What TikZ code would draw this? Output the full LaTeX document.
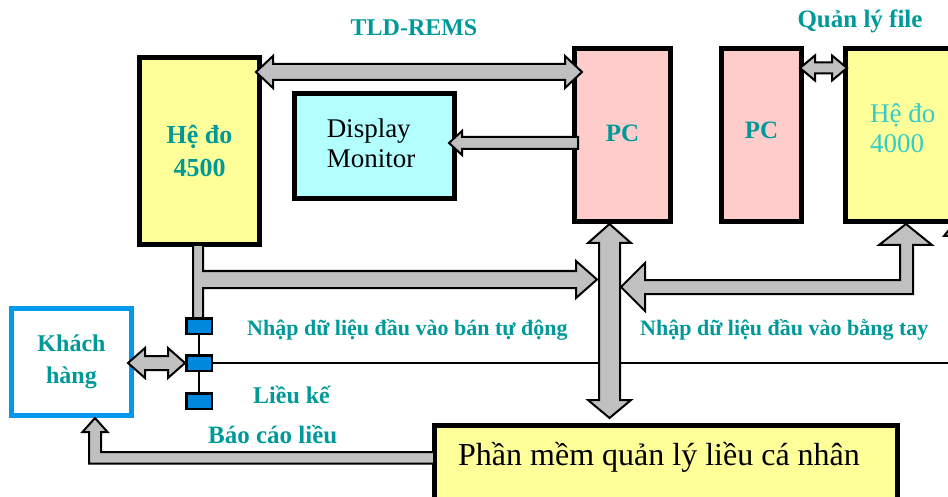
\documentclass[tikz,border=0pt]{standalone}
\usepackage{fontspec}
\setmainfont{Liberation Serif}
\definecolor{tealtxt}{HTML}{009999}
\definecolor{cyantxt}{HTML}{33CCCC}
\definecolor{yel}{HTML}{FFFF99}
\definecolor{pinkbox}{HTML}{FFCCCC}
\definecolor{cyanbox}{HTML}{B3FFFF}
\definecolor{grayarr}{HTML}{C0C0C0}
\definecolor{blueconn}{HTML}{0088DD}
\definecolor{bluebox}{HTML}{0099EE}
\begin{document}
\begin{tikzpicture}[x=1pt,y=-1pt,
  box/.style={draw=black, line width=5pt, inner sep=0pt, align=center},
  blk/.style={draw=black, line width=2pt, fill=grayarr, line join=miter},
  lbl/.style={text=tealtxt, inner sep=0pt, anchor=base west},
  connbox/.style={draw=black, line width=2.5pt, fill=blueconn, minimum width=25.5pt, minimum height=15.5pt, inner sep=0pt}
]
\useasboundingbox (0,0) rectangle (948,497);
\clip (0,0) rectangle (948,497);

% boxes
\node[box, fill=yel, minimum width=120pt, minimum height=187pt, text=tealtxt,
      font=\bfseries\fontsize{26}{33}\selectfont] (h45) at (199.5,151) {Hệ đo\\4500};
\node[box, fill=cyanbox, minimum width=160pt, minimum height=105pt] (mon) at (374.5,146) {};
\node[inner sep=0pt, align=left, font=\fontsize{27}{30}\selectfont] (mont) at (371,143) {Display\\Monitor};
\node[box, fill=pinkbox, minimum width=96pt, minimum height=173pt, text=tealtxt,
      font=\bfseries\fontsize{25}{30}\selectfont] (pc1) at (622.5,135) {\raisebox{3pt}{PC}};
\node[box, fill=pinkbox, minimum width=80pt, minimum height=173pt, text=tealtxt,
      font=\bfseries\fontsize{25}{30}\selectfont] (pc2) at (761.5,135) {\raisebox{10pt}{PC}};
\node[box, fill=yel, minimum width=120pt, minimum height=173pt] (h40) at (905.5,135) {};
\node[inner sep=0pt, align=left, anchor=west, text=cyantxt, font=\fontsize{27}{30}\selectfont] (h40t) at (870,128) {Hệ đo\\4000};
\node[box, draw=bluebox, fill=white, minimum width=120pt, minimum height=107pt, text=tealtxt,
      font=\bfseries\fontsize{24}{32}\selectfont] (kh) at (71.5,362) {Khách\\hàng};
\node[box, fill=yel, minimum width=463pt, minimum height=100pt, anchor=north west] (sw) at (432,423) {};
\node[anchor=base west, inner sep=0pt, font=\fontsize{32}{36}\selectfont] (swt) at (458,465) {Phần mềm quản lý liều cá nhân};

% labels
\node[lbl, anchor=base, font=\bfseries\fontsize{24}{28}\selectfont] (tld) at (414,36) {TLD-REMS};
\node[lbl, anchor=base, font=\bfseries\fontsize{25}{28}\selectfont] (qly) at (860,28) {Quản lý file};
\node[lbl, font=\bfseries\fontsize{22}{26}\selectfont] (nban) at (247,335) {Nhập dữ liệu đầu vào bán tự động};
\node[lbl, font=\bfseries\fontsize{22}{26}\selectfont] (ntay) at (640,335) {Nhập dữ liệu đầu vào bằng tay};
\node[lbl, font=\bfseries\fontsize{24}{28}\selectfont] (lk) at (253,403) {Liều kế};
\node[lbl, font=\bfseries\fontsize{25}{28}\selectfont] (bcl) at (208,443) {Báo cáo liều};

% connector line
\coordinate (lineend) at (948,363);
\draw[line width=1.5pt] (199,335) -- (199,392);
\draw[line width=1.5pt] (213,363) -- (lineend);

% block arrows
% 4500 <-> PC1
\draw[blk] (256,72) -- (273,56) -- (273,64) -- (565,64) -- (565,56) -- (582,72)
  -- (565,88) -- (565,80) -- (273,80) -- (273,88) -- cycle;
% PC1 -> Monitor
\draw[blk] (449,143) -- (462,131) -- (462,137) -- (578,137) -- (578,149) -- (462,149) -- (462,155) -- cycle;
% 4500 T-arrow
\draw[blk] (193,245) -- (203,245) -- (203,271) -- (576,271) -- (576,261) -- (597,279.5)
  -- (576,298) -- (576,288) -- (203,288) -- (203,318) -- (193,318) -- cycle;
% vertical double arrow PC1 <-> software
\draw[blk] (609.5,224) -- (631,243) -- (620,243) -- (620,400) -- (631,400) -- (609.5,418)
  -- (588,400) -- (599,400) -- (599,243) -- (588,243) -- cycle;
% 4000 L-arrow
\draw[blk] (621,287) -- (645,263) -- (645,280) -- (900,280) -- (900,245) -- (879,245)
  -- (906,224) -- (932,245) -- (913,245) -- (913,294) -- (645,294) -- (645,311) -- cycle;
% partial arrow tip at the right edge
\draw[blk] (944,236) -- (952,226) -- (960,236) -- cycle;
% PC2 <-> 4000
\draw[blk] (800,68) -- (815,55.5) -- (815,62.5) -- (832,62.5) -- (832,55.5) -- (847,68)
  -- (832,80.5) -- (832,73.5) -- (815,73.5) -- (815,80.5) -- cycle;
% Khach hang <-> connector
\draw[blk] (128,363) -- (145,348) -- (145,356) -- (168,356) -- (168,348) -- (185,363)
  -- (168,378) -- (168,370) -- (145,370) -- (145,378) -- cycle;
% bao cao lieu
\draw[blk] (434,452) -- (101,452) -- (101,432) -- (107.5,432) -- (95,418) -- (82.5,432)
  -- (89,432) -- (89,463.5) -- (434,463.5) -- cycle;

% connector boxes
\node[connbox] (c1) at (199,326) {};
\node[connbox] (c2) at (199,363) {};
\node[connbox] (c3) at (199,401) {};
\end{tikzpicture}
\end{document}
